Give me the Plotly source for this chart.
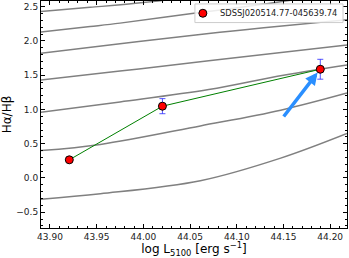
import plotly.graph_objects as go

# Observed points
obs_x = [43.9207, 44.0204, 44.1894]
obs_y = [0.265, 1.048, 1.587]
obs_err = [0.0, 0.11, 0.145]
obs_name = "SDSSJ020514.77-045639.74"

# Model curves (gray)
curve_A_x = [43.89, 43.943, 44.0, 44.05]
curve_A_y = [2.43, 2.49, 2.56, 2.64]
curve_B_x = [43.89, 43.943, 43.975, 44.052, 44.12, 44.19]
curve_B_y = [2.13, 2.21, 2.26, 2.40, 2.52, 2.66]
curve_C_x = [43.89, 43.975, 44.07, 44.218]
curve_C_y = [1.82, 1.96, 2.11, 2.31]
curve_D_x = [43.89, 43.975, 44.07, 44.218]
curve_D_y = [1.43, 1.56, 1.71, 1.94]
curve_E_x = [43.89, 43.975, 44.07, 44.15, 44.218]
curve_E_y = [0.96, 1.11, 1.29, 1.50, 1.65]
curve_F_x = [43.89, 43.954, 44.061, 44.147, 44.218]
curve_F_y = [0.40, 0.49, 0.76, 0.99, 1.24]
curve_G_x = [43.89, 43.954, 44.061, 44.147, 44.218]
curve_G_y = [-0.31, -0.23, -0.04, 0.29, 0.65]

# Arrow (tail -> head)
arrow_x = [44.149, 44.1865]
arrow_y = [0.875, 1.538]

curves = [(curve_A_x, curve_A_y), (curve_B_x, curve_B_y), (curve_C_x, curve_C_y),
          (curve_D_x, curve_D_y), (curve_E_x, curve_E_y), (curve_F_x, curve_F_y),
          (curve_G_x, curve_G_y)]

fig = go.Figure()
for cx, cy in curves:
    fig.add_trace(go.Scatter(x=cx, y=cy, mode="lines", line=dict(color="#808080", width=1.5, shape="spline"),
                             showlegend=False, hoverinfo="skip"))

fig.add_trace(go.Scatter(x=obs_x, y=obs_y, mode="lines", line=dict(color="green", width=1), showlegend=False))
fig.add_trace(go.Scatter(x=obs_x, y=obs_y, mode="markers", name=obs_name, showlegend=False,
                         marker=dict(color="red", size=8, line=dict(color="black", width=1)),
                         error_y=dict(type="data", array=obs_err, color="rgba(40,40,255,0.8)", thickness=1, width=3)))

fig.add_annotation(x=arrow_x[1], y=arrow_y[1], ax=arrow_x[0], ay=arrow_y[0], xref="x", yref="y",
                   axref="x", ayref="y", showarrow=True, arrowhead=2, arrowsize=0.7, arrowwidth=3.5,
                   arrowcolor="#2a8fff", text="")

# Compact legend (box, marker, label)
fig.add_shape(type="rect", xref="paper", yref="paper", x0=0.503, x1=0.987, y0=0.905, y1=0.987,
              fillcolor="rgba(255,255,255,0.85)", line=dict(color="#cccccc", width=1), layer="above")
fig.add_shape(type="circle", xref="paper", yref="paper", xsizemode="pixel", ysizemode="pixel",
              xanchor=0.529, yanchor=0.946, x0=-4, x1=4, y0=-4, y1=4,
              fillcolor="red", line=dict(color="black", width=1), layer="above")
fig.add_annotation(x=0.580, y=0.946, xref="paper", yref="paper", xanchor="left", yanchor="middle",
                   text=obs_name, showarrow=False, font=dict(size=8.3, color="#222"))

font = "DejaVu Sans"
fig.update_layout(
    width=349, height=258,
    margin=dict(l=41, r=2, t=1, b=30),
    plot_bgcolor="white", paper_bgcolor="white",
    font=dict(family=font, size=9, color="#222"),
    showlegend=False,
    xaxis=dict(range=[43.8904, 44.218], showgrid=False, zeroline=False, showline=True, linecolor="black",
               linewidth=1, mirror="allticks", ticks="inside", ticklen=4, tickcolor="black",
               dtick=0.05, tick0=43.9, tickformat=".2f", automargin=False,
               minor=dict(dtick=0.01, ticks="inside", ticklen=2, tickcolor="black"),
               title=dict(text="log L<sub>5100</sub> [erg s<sup>−1</sup>]", font=dict(size=12, color="black"), standoff=4)),
    yaxis=dict(range=[-0.73, 2.583], showgrid=False, zeroline=False, showline=True, linecolor="black",
               linewidth=1, mirror="allticks", ticks="inside", ticklen=4, tickcolor="black",
               dtick=0.5, tick0=0, tickformat=".1f", automargin=False,
               minor=dict(dtick=0.1, ticks="inside", ticklen=2, tickcolor="black"),
               title=dict(text="Hα/Hβ", font=dict(size=12, color="black"), standoff=2)),
)
fig.write_html("out.html", config={"displayModeBar": False})

with open("out.html", "r", encoding="utf-8") as f:
    html = f.read()
html = html.replace("<head>", "<head><style>html,body{margin:0;padding:0;overflow:hidden;}</style>", 1)
with open("out.html", "w", encoding="utf-8") as f:
    f.write(html)
